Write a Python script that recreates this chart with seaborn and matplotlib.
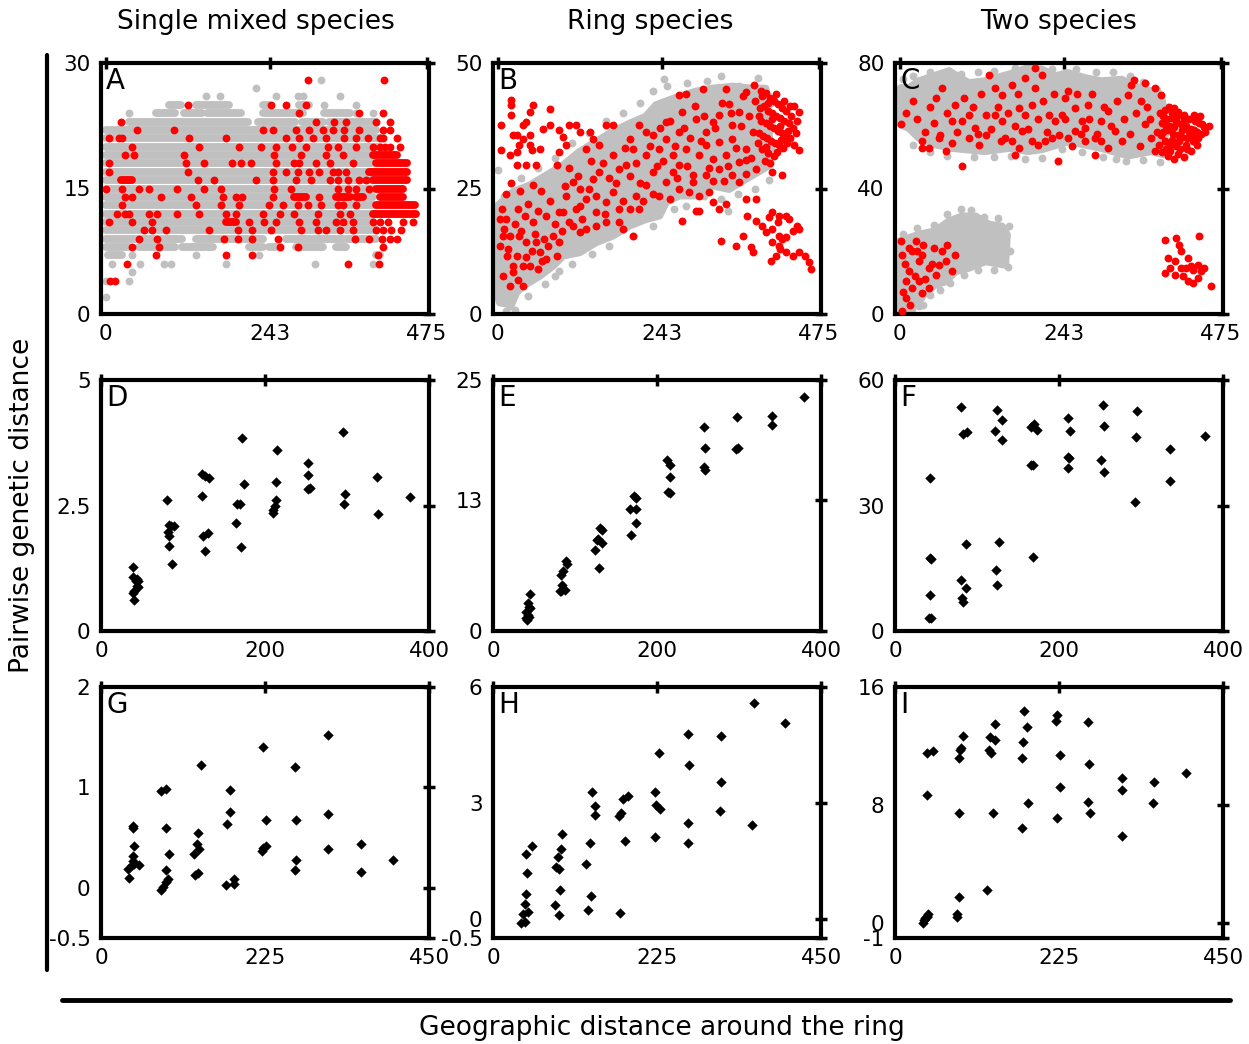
import matplotlib
matplotlib.use("Agg")
import matplotlib.pyplot as plt
from matplotlib.lines import Line2D
from matplotlib.patches import Polygon
import seaborn as sns

sns.set_style("white")
plt.rcParams['font.family'] = ['DejaVu Sans']
for key in ['text.color', 'axes.labelcolor', 'xtick.color', 'ytick.color']:
    plt.rcParams[key] = 'black'

GREY = '#c0c0c0'
RED = '#ff0000'
DOT_S = 32            # scatter size (pt^2) of the simulation dots
DOT_LW = 32 ** 0.5    # same diameter, used as line width for dense runs
DIA_S = 28

COL_TITLES = ["Single mixed species", "Ring species", "Two species"]
PANEL_LETTERS = list("ABCDEFGHI")

# ---------------- Panel A: single mixed species (integer distance levels) ----
# dense runs of grey dots: (level, x_start, x_end)
A_grey_runs = [
    (25, 93, 111), (25, 133, 183), (25, 232, 242), (25, 286, 301),
    (24, 74, 103), (24, 116, 143), (24, 150, 200), (24, 232, 291), (24, 323, 361),
    (23, 34, 210), (23, 225, 280), (23, 290, 322), (23, 330, 400),
    (22, 0, 400), (21, 0, 410), (20, 0, 405), (19, 0, 395), (18, 0, 395),
    (17, 0, 400), (16, 0, 395), (15, 0, 395), (14, 0, 395), (13, 0, 395),
    (12, 0, 400), (11, 0, 395), (10, 0, 345), (10, 355, 400),
    (9, 0, 113), (9, 133, 232), (9, 267, 351), (9, 356, 400),
    (8, 0, 34), (8, 49, 103), (8, 113, 158), (8, 212, 232), (8, 242, 252),
    (8, 281, 321), (8, 341, 356),
    (7, 4, 24), (7, 400, 405),
]
A_grey_pts = [
    (318, 28), (222, 27), (148, 26), (169, 26), (252, 26), (285, 26), (291, 26),
    (346, 26), (323, 25), (370, 25), (34, 24), (370, 24), (395, 24),
    (39, 7), (133, 7), (227, 7), (9, 6), (51, 6), (86, 6), (96, 6), (178, 6),
    (309, 6), (395, 6), (39, 5), (0, 4), (34, 4), (0, 2),
]
# dense runs of red dots: (level, x_start, x_end)
A_red_runs = [
    (19, 395, 430), (18, 400, 445), (17, 390, 445), (16, 395, 445), (16, 22, 39),
    (15, 400, 440), (14, 279, 296), (14, 341, 361), (14, 370, 380), (14, 405, 440),
    (13, 400, 457), (12, 395, 459), (11, 178, 192),
]
# isolated red dots, x positions by level
A_red_by_level = {
    28: [299, 412],
    25: [122, 244, 267, 296],
    24: [286, 375, 410],
    23: [23, 311, 338, 356, 400, 420],
    22: [46, 101, 232, 247, 281, 301, 321, 336, 353, 375, 410, 420],
    21: [4.5, 19, 24, 123, 178, 267, 286, 306, 326, 353, 370, 388, 405, 410, 430],
    20: [39, 138, 197, 229, 252, 276, 296, 328, 343, 370, 395, 405, 413, 420, 435],
    19: [29, 42, 116, 249, 289, 326, 351],
    18: [4.5, 118, 145, 187, 200, 215, 252, 279, 286, 311, 331, 365],
    17: [4.5, 121, 247, 267, 284, 301, 316, 336, 343, 356],
    16: [136, 160, 222, 247, 281, 304, 331, 343, 358, 375, 385],
    15: [0, 24, 49, 64, 106, 145, 170, 249, 274, 343, 358, 370, 390],
    14: [29, 39, 81, 126, 173, 192, 202, 247, 316],
    13: [24, 133, 170, 197, 242, 262, 284, 299, 318, 343, 351, 370],
    12: [17, 29, 34, 64, 76, 106, 138, 178, 192, 232, 257, 279, 314, 346, 361],
    11: [4.5, 39, 69, 212, 234, 252, 286, 311, 341, 351, 365, 395, 405, 417, 440, 455],
    10: [56, 69, 89, 153, 195, 217, 244, 289, 314, 326, 346, 365, 400, 410, 422, 437],
    9: [49, 76, 175, 195, 217, 254, 368, 390, 408, 420, 430],
    8: [39, 79, 257, 284, 410],
    7: [74, 178, 217, 403],
    6: [32, 358, 404],
    4: [7, 14],
}

# ---------------- Panel B: ring species -------------------------------------
B_grey_cloud = [
    (0.5, 21.6), (22.6, 24.3), (47.2, 25.6), (71.8, 27.6), (96.4, 29.6),
    (121, 32.3), (145.5, 34.3), (170, 36.3), (194.7, 37.9), (219, 39.3),
    (234, 41.6), (268, 43.3), (293, 44.3), (317.6, 44.9), (347, 45.3),
    (376.6, 44.9), (396, 44.9), (401, 38.3), (401, 29.6), (366.8, 26.9),
    (342, 24.9), (317.6, 25.6), (293, 23.6), (268.4, 23.6), (248.8, 22.3),
    (239, 19.6), (219, 18.9), (194.7, 17.6), (170, 15.6), (145.5, 14.3),
    (121, 12.3), (96.4, 11.6), (81.6, 9.6), (62, 7.6), (37.4, 5.6),
    (27.5, 4.3), (20, 1.9), (3, 2.3), (0.5, 3.6),
]
B_grey_pts = [
    (0.5, 28.6), (246, 46.8), (278, 21.6), (340, 20.6), (401, 26.6),
    (84, 7.6), (8, 2.6), (17.7, 1.6), (357, 45.5),
    (10, 23.5), (35, 27), (60, 29), (85, 31), (110, 34), (135, 36), (160, 38.5),
    (185, 40), (210, 42), (230, 44.5), (250, 45.5), (280, 46), (310, 46.5),
    (330, 47.5), (385, 47), (404, 33), (404, 42), (380, 25), (355, 24), (330, 23),
    (305, 23.5), (260, 21), (230, 17.5), (200, 15.5), (165, 13.5), (140, 12),
    (110, 10), (90, 8.5), (70, 6), (45, 3.5), (25, 0.8), (12, 0.5),
]
B_red_pts = [
    # upper-left excursion
    (20, 42.6), (20, 41.6), (5, 37.6), (20, 39.6), (28, 35.6), (23, 35.6),
    (37, 37.6), (42, 38.3), (52, 41.6), (47, 40.3), (37, 34.9), (32, 33.6),
    (47, 35.6), (47, 33.6), (50, 32.6), (62, 32.9), (77, 40.9), (77, 37.6),
    (67, 36.9), (91, 36.6), (96, 35.3), (106, 37.6), (116, 37.6), (121, 36.3),
    (136, 36.3), (150, 33.6), (101, 33.6), (91, 32.3), (131, 32.9), (141, 34.9),
    (160, 37.6), (170, 37.6), (18, 31.6), (28, 29.6), (42, 29.6), (57, 29.6),
    (87, 29.6), (52, 25.6), (5, 32.6), (28, 32.3),
    # top
    (268, 43.6), (278, 43.9), (303, 44.9), (337, 44.9), (379, 45.7),
    (367, 44.3), (342, 41.9),
    # dense far end
    (391, 43.5), (396, 44), (402, 43), (408, 42.5), (414, 41.8), (420, 41),
    (426, 40.5), (432, 41.5), (438, 41.5), (445, 40.3), (388, 41), (394, 41.5),
    (400, 40.5), (406, 40), (412, 39.5), (418, 39), (424, 38.5), (430, 38),
    (436, 37), (443, 38.5), (390, 38.5), (396, 38), (402, 37.5), (408, 37),
    (414, 36.5), (420, 36), (426, 35.5), (432, 35), (386, 36), (392, 35.5),
    (398, 35), (404, 34.5), (410, 34), (416, 33.6), (422, 33), (438, 33.6),
    (445, 32.6), (400, 32), (408, 31.5), (395, 30.5), (385, 34),
    (389, 44.5), (399, 42), (405, 38.8), (411, 43.8), (417, 37.5), (423, 42.5),
    (429, 36.5), (434, 39.5), (441, 36), (397, 33.2), (413, 32.2), (427, 34),
    (387, 39.5), (391, 32.8), (419, 34.7), (403, 30),
    # lower-right group
    (369, 19.6), (382, 18.6), (401, 19.3), (406, 20.3), (416, 19.6), (426, 19.6),
    (431, 18.9), (443, 17.6), (391, 17.6), (396, 16.3), (406, 16.9), (416, 15.6),
    (426, 15.3), (436, 16.6), (445, 16.9), (406, 14.3), (416, 13.6), (426, 12.3),
    (436, 11.6), (445, 12.3), (455, 11.6), (460, 10.3), (463, 8.9), (404, 10.6),
    (362, 15.6), (352, 13.6), (374, 13.3), (377, 12.3), (330, 14.6), (411, 11.6),
    (418, 12.9), (421, 15), (414, 18.3),
    # below the main cloud, middle-right
    (273, 18.6), (293, 20.6), (298, 20.6), (318, 22.3), (327, 20.9), (313, 24.3),
    (337, 22), (367, 22.9), (382, 22.9), (406, 28.3), (421, 27.6),
    # inside the cloud, short distances
    (3, 13.6), (8, 15.6), (13, 11.6), (23, 9.6), (28, 11.6), (42, 11.3),
    (47, 9.6), (59, 8.9), (72, 10.9), (37, 5.6), (23, 8.3), (32, 15.6),
    (52, 18.3), (72, 19.6), (82, 15.6), (57, 14.3), (42, 14.3), (18, 15.6),
    (3, 18.9), (10, 16.9), (37, 9.6), (62, 12.3), (91, 14.3), (106, 18.3),
    (121, 16.3), (96, 20.3),
    (6, 21), (12, 19), (15, 13), (25, 18), (30, 21), (35, 16.5), (40, 19.5),
    (45, 22), (50, 12.5), (55, 16), (60, 20.5), (65, 10.5), (68, 15), (75, 13.5),
    (78, 22.5), (85, 18), (88, 11.5), (95, 16.5), (100, 25.5), (8, 7.5),
    (18, 5.5), (30, 6.8), (12, 24), (20, 26), (33, 24.5), (64, 24.5),
    # inside the cloud, middle distances
    (111, 26.3), (121, 24.9), (141, 26.9), (150, 28.3), (170, 31.6), (180, 28.9),
    (190, 29.6), (200, 32.9), (205, 23.6), (209, 20.9), (180, 20.9), (195, 20.9),
    (160, 22.3), (146, 20.3), (131, 22.9), (121, 21.6), (101, 23.6), (91, 20.3),
    (111, 17.6), (131, 16.9), (146, 17.6), (160, 18.3), (180, 18.3), (200, 15.6),
    (185, 16.9), (170, 24.3),
    (105, 29), (115, 21), (118, 27.5), (125, 19), (135, 25), (138, 30.5),
    (145, 23.5), (155, 30), (158, 20), (165, 27), (175, 26), (185, 22.5),
    (188, 33), (195, 27.5), (205, 30), (210, 26), (215, 22.5),
    # inside the cloud, long distances
    (219, 31.6), (229, 28.3), (239, 32.9), (249, 34.9), (259, 31.6), (268, 29.6),
    (278, 32.9), (288, 27.6), (298, 31.6), (308, 33.6), (318, 30.9), (327, 34.3),
    (337, 31.6), (347, 34.9), (357, 30.3), (367, 32.9), (377, 36.3), (318, 38.3),
    (293, 38.9), (268, 36.3), (249, 38.3), (229, 35.6), (219, 36.3), (209, 37.6),
    (195, 34.9), (219, 25.6), (239, 23.6), (254, 22.9), (268, 24.9), (283, 24.3),
    (288, 26.3), (298, 23.6), (367, 27.9), (357, 26.3), (347, 27.6), (382, 28.9),
    (367, 30.6), (327, 28.9), (308, 27.6), (259, 28.3), (249, 26.3), (273, 40.3),
    (327, 39.6), (357, 40.3), (308, 36.3), (347, 37.6),
    (225, 33.5), (230, 24), (235, 29.5), (240, 37), (245, 30.5), (255, 38.5),
    (262, 33.5), (265, 27), (275, 37), (280, 29.5), (285, 35), (292, 41.5),
    (300, 34.5), (305, 39.5), (312, 29), (322, 37), (332, 42), (335, 26.5),
    (345, 40), (352, 33), (360, 37.5), (372, 39.5), (375, 31), (380, 42.5),
    (362, 43.5), (340, 29.5), (318, 26.5),
]

# ---------------- Panel C: two species --------------------------------------
C_grey_upper = [
    (1.5, 72), (13.7, 72), (28.5, 74.2), (72.6, 77.4), (102, 73.6), (126, 74.2),
    (161, 76.3), (190, 78.4), (210, 77.9), (230, 75.8), (249, 76.8), (274, 75.2),
    (298, 74.2), (328, 74.7), (347, 72.6), (372, 71), (387, 68.9), (392, 61.4),
    (392, 50.8), (372, 51.9), (338, 50.5), (298, 52.9), (274, 54), (249, 55),
    (210, 52.5), (190, 51.9), (161, 52.9), (126, 51.9), (102, 52.4), (77.5, 52.9),
    (53, 54), (28.5, 56.1), (13.7, 59.3), (1.5, 60.4),
]
C_grey_lower = [
    (0.5, 0.8), (0.5, 23.2), (28.5, 25.3), (53, 26.4), (72.6, 29.5), (92, 31.1),
    (112, 31.1), (131.5, 28.5), (151, 27.9), (158.5, 25.3), (156, 15.7),
    (126.6, 16.8), (102, 14.7), (82.4, 13.6), (67.7, 10.4), (53, 9.4),
    (38.3, 7.2), (28.5, 4), (13.7, 2.4), (4, 0.3),
]
C_grey_pts = [
    (210, 49.7), (335, 48.7), (72.6, 77.4), (190, 78.4), (28, 2.5),
    (5, 75), (20, 76), (45, 77), (90, 76.5), (115, 77), (140, 77.5), (170, 78.5),
    (225, 78), (260, 78), (290, 77), (315, 77), (340, 76), (360, 74), (380, 71.5),
    (395, 66), (20, 54), (45, 51.5), (70, 50.5), (110, 50), (140, 50), (165, 50.5),
    (185, 49.5), (240, 52.5), (270, 51.5), (300, 50), (320, 49.5), (360, 49),
    (385, 48.5),
    (5, 25.5), (25, 27.5), (50, 28.5), (70, 32), (90, 33.5), (105, 33), (125, 31),
    (145, 30.5), (162, 28), (163, 20), (160, 15), (140, 14), (115, 14), (95, 12.5),
    (75, 10), (60, 7.5), (45, 6), (35, 3), (18, 1.5),
]
C_red_pts = [
    # far-end group of the lower band
    (391.6, 23.7), (408.7, 24.2), (413.6, 22.1), (443, 24.8), (396.5, 17.9),
    (406.3, 16.8), (416, 20), (426, 17.9), (431, 15.2), (440.6, 15.7),
    (450.4, 14.7), (391.6, 13.1), (406.3, 12.5), (418.5, 12), (426, 10.4),
    (433, 9.9), (440.6, 11.5), (445.5, 13.6), (460, 8.8), (416, 14.7),
    (423.5, 14.7), (433, 14.1), (399, 14.7),
    # inside the lower grey group
    (1.5, 23.2), (4, 18.9), (18.6, 20), (28.5, 16.8), (33.4, 18.9), (43, 14.7),
    (53, 12.5), (58, 15.7), (77.5, 13.6), (67.7, 16.8), (13.7, 13.6), (28.5, 10.4),
    (43, 8.3), (33.4, 6.7), (18.6, 8.3), (4, 0.9), (8.8, 10.4), (82.4, 18.9),
    (23.5, 23.2), (13.7, 21),
    (8, 16), (10, 5), (22, 12), (25, 20), (38, 11), (48, 16), (5, 7), (15, 3),
    (63, 20), (35, 22), (50, 21), (70, 22),
    # upper band
    (1.5, 60.4), (33, 55), (33, 52.9), (43, 52.9), (68, 51.9), (58, 56.1),
    (78, 54.5), (92, 47.1), (102, 56.1), (112, 59.3), (117, 54), (131.5, 76.3),
    (141, 72), (151, 69.9), (141, 63.5), (151, 61.4), (156, 56.1), (166, 55),
    (171, 50.8), (181, 58.2), (176, 52.9), (185.5, 63.5), (195, 66.7), (200, 72),
    (205, 54), (215, 55), (225, 56.1), (230, 61.4), (234.5, 48.7), (239.5, 63.5),
    (244, 68.9), (249, 71), (259, 65.7), (269, 61.4), (279, 66.7), (288.5, 50.8),
    (288.5, 56.1), (298, 61.4), (308, 64.6), (318, 58.2), (328, 55), (337.6, 69.9),
    (342.5, 73.1), (347, 74.7), (362, 73.6), (357, 67.8), (362, 60.4), (372, 56.1),
    (377, 72), (387, 69.9), (377, 51.9), (127, 63.5), (102, 63.5), (78, 61.4),
    (53, 68.9), (63, 72), (82, 66.7), (166, 73.1), (176, 65.7), (210, 76.3),
    (200, 78.4), (185.5, 75.2), (220, 63.5), (249, 56.1), (274, 59.3), (298, 55),
    (308, 52.9), (274, 55), (259, 58.2), (127, 57.2), (92, 61.4),
    (10, 64), (20, 68), (25, 62), (38, 58), (45, 66), (50, 61), (60, 57), (70, 64),
    (85, 58), (95, 69), (108, 66), (115, 57.5), (120, 70), (135, 59), (145, 66),
    (150, 55), (160, 64), (170, 60), (175, 70), (190, 59), (195, 55), (205, 62),
    (212, 68), (218, 58), (228, 70), (235, 57), (245, 62), (255, 53.5), (262, 70),
    (268, 57.5), (280, 62), (285, 70), (292, 57.5), (302, 66), (312, 60), (322, 68),
    (332, 62), (340, 57.5), (350, 64), (355, 53.5), (365, 66), (370, 62), (380, 58),
    (383, 54),
    # dense far end of the upper band
    (385, 64), (392, 65), (398, 66), (405, 65.5), (412, 64.5), (420, 63.5),
    (428, 62), (436, 61.5), (443, 61), (450, 59.5), (388, 61), (395, 62),
    (402, 62.5), (409, 61.5), (416, 60.5), (423, 60), (431, 59), (439, 58),
    (446, 57.5), (390, 58), (397, 58.5), (404, 57.5), (411, 57), (418, 56.5),
    (425, 56), (433, 55), (392, 55), (400, 54), (408, 53.5), (415, 52.5),
    (388, 51.5), (396, 50.5), (405, 49.5), (420, 50), (430, 52), (440, 54),
    (458, 60),
    (386, 57), (389, 63), (393, 60), (399, 60), (403, 55.5), (406, 59.5), (410, 63),
    (413, 55), (417, 58.5), (421, 62), (424, 54), (427, 58), (432, 56.5),
    (435, 63.5), (441, 56), (447, 60.5), (452, 58), (399, 52), (411, 51),
    (425, 52.5), (435, 58.5), (444, 63), (394, 52.5), (402, 64),
]

# ---------------- Panels D-F -------------------------------------------------
D_pts = [
    (39.6, 1.28), (39.6, 1.07), (43.6, 1.03), (45.2, 0.99), (43.6, 0.90),
    (39.6, 0.75), (40.4, 0.61), (45.2, 0.88), (42.4, 1.0), (40.4, 0.8),
    (80, 2.6), (82.8, 2.12), (88.9, 2.1), (81.6, 1.98), (83.2, 1.9),
    (83.2, 1.69), (86.9, 1.33), (84.8, 2.1),
    (123.2, 3.13), (127.3, 3.08), (131.3, 3.05), (123.2, 2.68), (124.4, 1.9),
    (130, 1.95), (126.5, 1.6),
    (172.5, 3.85), (174.5, 2.93), (165.6, 2.53), (169.7, 2.53), (164.8, 2.15),
    (170.9, 1.67),
    (215, 3.61), (214, 2.97), (214, 2.6), (212, 2.5), (210, 2.41), (210, 2.35),
    (253, 3.35), (253, 3.11), (254.5, 2.85), (252.5, 2.83),
    (295, 3.96), (297, 2.72), (296, 2.53),
    (336.5, 3.07), (337.3, 2.33),
    (377, 2.67),
]
E_pts = [
    (44.7, 3.68), (42.6, 2.77), (43.8, 2.44), (45.5, 2.34), (40.6, 1.87),
    (42.6, 1.6), (39.8, 1.27), (41.4, 1.1), (43.8, 1.44),
    (88.5, 6.95), (90.1, 6.72), (85.3, 6.02), (83.2, 5.55), (84.4, 4.61),
    (83.2, 3.94), (87.3, 4.11), (81.2, 3.94),
    (130, 10.23), (133.2, 10.03), (126.7, 9.02), (123.8, 8.02), (133.2, 8.79),
    (129.1, 6.28), (127.9, 9.12),
    (171.7, 13.47), (173.8, 13.24), (166.5, 12.2), (173.8, 12.13), (173.8, 10.8),
    (168.5, 9.56),
    (212, 17.05), (216, 16.54), (216, 15.31), (213.6, 13.8), (216, 13.7),
    (257, 20.3), (258.6, 18.25), (257, 16.3), (259, 16.04),
    (297, 21.3), (298.4, 18.25), (296.4, 18.08),
    (339.8, 21.4), (339.8, 20.5),
    (379.6, 23.26),
]
F_pts = [
    (42.4, 36.6), (42.4, 17.5), (44.4, 17.1), (42.4, 8.5), (41.2, 3.2), (43.6, 3.2),
    (80, 53.6), (82.8, 47.2), (88.1, 47.6), (86.9, 20.7), (80.8, 12.3),
    (86.9, 10.3), (81.6, 8.0), (82.8, 6.9),
    (124, 52.8), (130.5, 50.4), (122.4, 47.8), (130.5, 45.6), (126.5, 21.3),
    (123.2, 14.5), (124.4, 11.1),
    (165.6, 48.8), (169.7, 49.6), (173.7, 48.1), (168.9, 39.8), (165.6, 39.8),
    (168.5, 17.7),
    (211.3, 50.9), (213.3, 47.8), (211.3, 41.5), (212.5, 41.4), (211.3, 38.9),
    (253.3, 54), (254.5, 49), (251.7, 40.9), (255.3, 37.9),
    (295.7, 52.6), (293.7, 46.4), (292.9, 30.9),
    (335.3, 43.5), (335.3, 35.8),
    (377.7, 46.6),
]

# ---------------- Panels G-I -------------------------------------------------
G_pts = [
    (43.4, 0.617), (43.4, 0.6), (44.8, 0.417), (43.4, 0.317), (43.4, 0.267),
    (52.5, 0.223), (42, 0.223), (36.6, 0.183), (38.8, 0.1), (45.7, 0.233),
    (82.2, 0.967), (89.1, 0.983), (89.1, 0.593), (92.8, 0.333), (89.1, 0.177),
    (92.3, 0.083), (89.1, 0.057), (82.2, -0.017), (84.5, 0.01),
    (137, 1.223), (133.4, 0.55), (131.6, 0.433), (134.8, 0.383), (127.9, 0.333),
    (132.5, 0.15), (128.8, 0.123),
    (177.3, 0.973), (177.3, 0.757), (172.7, 0.64), (171.3, 0.023), (181.8, 0.09),
    (182.8, 0.033),
    (221.6, 1.4), (227, 0.677), (226.2, 0.417), (221.6, 0.4), (220.7, 0.367),
    (266, 1.2), (267.3, 0.673), (267.3, 0.273), (266, 0.173),
    (311.6, 1.517), (311.6, 0.733), (311.6, 0.383),
    (357.3, 0.433), (356.4, 0.16),
    (401.2, 0.273),
]
H_pts = [
    (38.8, -0.113), (43.4, -0.087), (41.1, 0.113), (48, 0.174), (44.3, 0.374),
    (45.7, 0.635), (47.1, 1.174), (45.7, 1.678), (53.9, 1.887),
    (84.5, 0.365), (90.5, 0.104), (91.4, 0.739), (85.9, 1.348), (90.5, 1.278),
    (89.1, 1.609), (92.8, 1.8), (95, 2.19),
    (130.2, 0.217), (134.8, 0.583), (128, 1.409), (132.5, 1.957), (139.4, 2.913),
    (139.4, 2.696), (136.2, 3.287),
    (174.5, 0.157), (172.7, 2.652), (175.9, 2.739), (178.2, 3.087), (185, 3.174),
    (180.5, 2.017),
    (221.6, 2.113), (221.6, 3.287), (223.9, 2.957), (228.5, 2.843), (227.5, 4.287),
    (267.3, 1.957), (267.3, 2.478), (268.7, 3.974), (267.3, 4.783),
    (311.6, 2.8), (313, 3.539), (313, 4.722),
    (355.5, 2.417), (357.8, 5.591),
    (401.2, 5.061),
]
I_pts = [
    (37.9, 0), (41.1, 0.34), (43.4, 0.52), (45.7, 0.63), (44.3, 0.45), (39.8, 0.23),
    (44.3, 11.56), (52.5, 11.68), (44.3, 8.68),
    (84.5, 0.45), (84.5, 0.63), (88.2, 1.81), (88.2, 7.48), (88.2, 11.16),
    (89.1, 11.75), (90, 11.9), (92.7, 12.7),
    (126.6, 2.22), (129.3, 11.75), (131.1, 11.56), (133.9, 7.48), (130.2, 12.59),
    (137, 12.43), (137, 13.49),
    (173.6, 11.16), (173.6, 6.46), (175.9, 12.29), (176.8, 14.4), (181.4, 13.31),
    (182.8, 8.16),
    (221.6, 14.1), (220.7, 13.67), (226.2, 11.38), (226.2, 9.25), (221.6, 7.14),
    (265, 13.6), (265.9, 10.77), (265, 8.23), (267.3, 7.48),
    (311.6, 9.86), (311.6, 9.0), (311.6, 5.9),
    (355.5, 9.57), (354.1, 8.12),
    (399.8, 10.2),
]

# axis settings per row / panel
ROW_XLIM = [(-7, 478), (0, 400), (0, 450)]
ROW_XTICKS = [[0, 243, 475], [0, 200, 400], [0, 225, 450]]
PANEL_YLIM = [(0, 30), (0, 50), (0, 80),
              (0, 5), (0, 25), (0, 60),
              (-0.5, 2), (-0.5, 6), (-1, 16)]
PANEL_YTICKS = [[0, 15, 30], [0, 25, 50], [0, 40, 80],
                [0, 2.5, 5], [0, 13, 25], [0, 30, 60],
                [-0.5, 0, 1, 2], [-0.5, 0, 3, 6], [-1, 0, 8, 16]]
PANEL_YTICKLABELS = [["0", "15", "30"], ["0", "25", "50"], ["0", "40", "80"],
                     ["0", "2.5", "5"], ["0", "13", "25"], ["0", "30", "60"],
                     ["-0.5", "0", "1", "2"], ["-0.5", "0", "3", "6"],
                     ["-1", "0", "8", "16"]]

# ---------------------------------------------------------------------------
W, H = 1249, 1044
fig = plt.figure(figsize=(W / 100, H / 100), dpi=100)
fig.patch.set_facecolor('white')

col_left = [101, 493, 895]
row_top = [63, 380, 687]
ax_w, ax_h = 328, 251

axes = []
for r in range(3):
    for c in range(3):
        ax = fig.add_axes([col_left[c] / W, 1 - (row_top[r] + ax_h) / H, ax_w / W, ax_h / H])
        axes.append(ax)


def xy(pts):
    return [p[0] for p in pts], [p[1] for p in pts]


def dots(ax, pts, color, z):
    x, y = xy(pts)
    sns.scatterplot(x=x, y=y, ax=ax, color=color, s=DOT_S, linewidth=0, zorder=z, legend=False)


def runs(ax, segs, color, z):
    lc = ax.hlines([s[0] for s in segs], [s[1] for s in segs], [s[2] for s in segs],
                   colors=color, linewidth=DOT_LW, zorder=z)
    lc.set_capstyle('round')


def cloud(ax, outline, color, z):
    ax.add_patch(Polygon(outline, closed=True, facecolor=color, edgecolor=color,
                         linewidth=DOT_LW, joinstyle='round', zorder=z))


# Panel A
axA = axes[0]
runs(axA, A_grey_runs, GREY, 1)
dots(axA, A_grey_pts, GREY, 2)
runs(axA, A_red_runs, RED, 3)
A_red_pts = [(x, lvl) for lvl, xs in A_red_by_level.items() for x in xs]
dots(axA, A_red_pts, RED, 4)

# Panel B
axB = axes[1]
cloud(axB, B_grey_cloud, GREY, 1)
dots(axB, B_grey_pts, GREY, 2)
dots(axB, B_red_pts, RED, 3)

# Panel C
axC = axes[2]
cloud(axC, C_grey_upper, GREY, 1)
cloud(axC, C_grey_lower, GREY, 1)
dots(axC, C_grey_pts, GREY, 2)
dots(axC, C_red_pts, RED, 3)

# Panels D-I: black diamonds
for ax, pts in zip(axes[3:], [D_pts, E_pts, F_pts, G_pts, H_pts, I_pts]):
    x, y = xy(pts)
    sns.scatterplot(x=x, y=y, ax=ax, color='black', marker='D', s=DIA_S,
                    linewidth=0, zorder=3, legend=False)

for i, ax in enumerate(axes):
    r = i // 3
    ax.set_xlim(*ROW_XLIM[r])
    ax.set_ylim(*PANEL_YLIM[i])
    ax.set_xticks(ROW_XTICKS[r])
    ax.set_xticklabels([str(t) for t in ROW_XTICKS[r]])
    ax.set_yticks(PANEL_YTICKS[i])
    ax.set_yticklabels(PANEL_YTICKLABELS[i])
    ax.set_xlabel('')
    ax.set_ylabel('')
    ax.tick_params(axis='both', which='major', direction='inout', length=9, width=2.5,
                   top=True, right=True, labeltop=False, labelright=False,
                   labelsize=15.5, pad=3, colors='black')
    for sp in ax.spines.values():
        sp.set_visible(True)
        sp.set_linewidth(3)
        sp.set_color('black')
    ax.set_facecolor('white')
    ax.text(0.016, 0.985, PANEL_LETTERS[i], transform=ax.transAxes, ha='left', va='top',
            fontsize=20, color='black', zorder=10)

# column headings
for c, title in enumerate(COL_TITLES):
    fig.text([256, 650, 1058][c] / W, 1 - 22 / H, title, ha='center', va='center', fontsize=19)

fig.text(22 / W, 1 - 505 / H, 'Pairwise genetic distance', rotation=90,
         ha='center', va='center', fontsize=19)
fig.text(662 / W, 1 - 1028 / H, 'Geographic distance around the ring',
         ha='center', va='center', fontsize=19)

# framing bars along the left and bottom
fig.add_artist(Line2D([47 / W, 47 / W], [1 - 55 / H, 1 - 970 / H], color='black',
                      linewidth=3, transform=fig.transFigure))
fig.add_artist(Line2D([62 / W, 1230 / W], [1 - 1000 / H, 1 - 1000 / H], color='black',
                      linewidth=3.5, transform=fig.transFigure))

fig.savefig('out.png', dpi=100, facecolor='white')
